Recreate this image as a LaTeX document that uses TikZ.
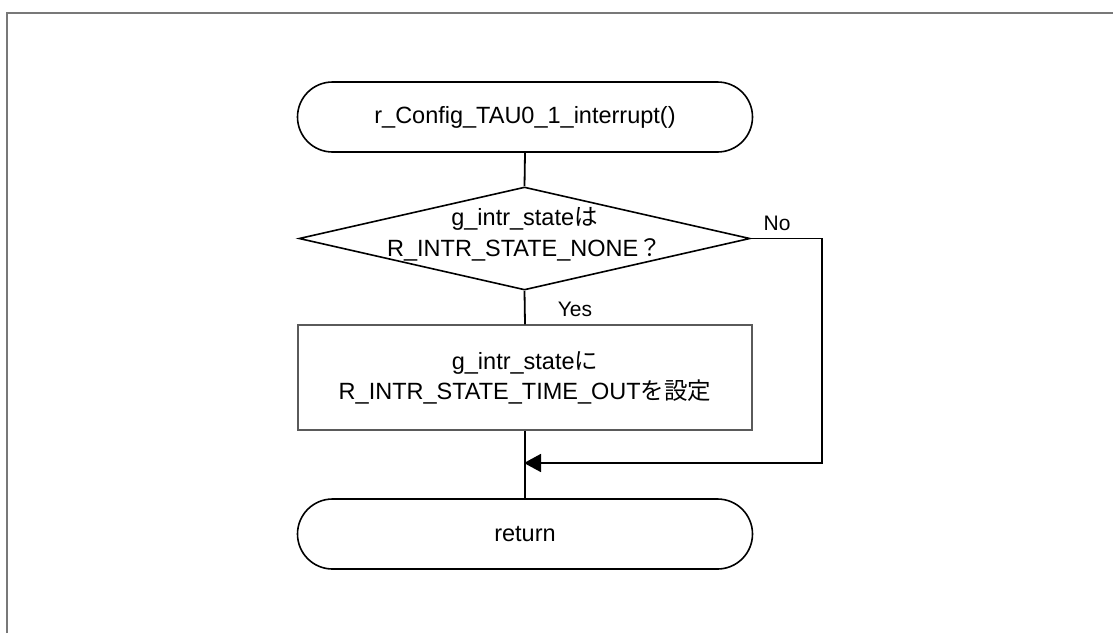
\documentclass[tikz,border=0pt]{standalone}
\usepackage{fontspec}
\setmainfont{Liberation Sans}
\newfontfamily\cjk{Noto Sans CJK JP}
\usetikzlibrary{shapes.geometric,arrows.meta}
\definecolor{framegray}{RGB}{120,120,120}
\definecolor{boxgray}{RGB}{90,90,90}
\tikzset{
  term/.style={draw=black, line width=1.6pt, rectangle, rounded corners=35pt,
    minimum width=455pt, minimum height=70pt, inner sep=0pt, align=center,
    font=\fontsize{23.5}{31}\selectfont},
  decbox/.style={draw=black, line width=1.6pt, diamond, minimum width=451pt,
    minimum height=103pt, inner sep=0pt},
  procbox/.style={draw=boxgray, line width=1.2pt, rectangle,
    minimum width=454pt, minimum height=105pt, inner sep=0pt, align=center,
    font=\fontsize{23.5}{30}\selectfont},
  txt/.style={align=center, inner sep=0pt, font=\fontsize{23.5}{31}\selectfont},
  conn/.style={draw=black, line width=1.8pt},
  lbl/.style={inner sep=0pt, font=\fontsize{21}{25}\selectfont}
}
\begin{document}
\begin{tikzpicture}[x=1pt,y=-1pt]
\useasboundingbox (0,0) rectangle (1113,633);
% frame
\draw[framegray, line width=2pt] (7,633) -- (7,13) -- (1113,13);
% nodes
\node[term] (start) at (525,117) {r\_Config\_TAU0\_1\_interrupt()};
\node[decbox] (dec) at (524.5,238.5) {};
\node[txt] (dectext) at (524.5,234) {g\_intr\_state{\cjk は}\\R\_INTR\_STATE\_NONE{\cjk ？}};
\node[procbox] (proc) at (525,377.5) {g\_intr\_state{\cjk に}\\R\_INTR\_STATE\_TIME\_OUT{\cjk を設定}};
\node[term] (ret) at (525,534) {return};
\coordinate (rc) at (822,463);
\coordinate (jn) at (524,463);
% connectors
\draw[conn] (start.south) -- (dec.north);
\draw[conn] (dec.south) -- (proc.north);
\draw[conn] (proc.south) -- (ret.north);
\draw[conn, -{Triangle[length=17pt,width=18pt]}] (dec.east) -| (rc) -- (jn);
% labels
\node[lbl, anchor=base] (no) at (777,230) {No};
\node[lbl, anchor=base] (yes) at (575,316) {Yes};
\end{tikzpicture}
\end{document}
